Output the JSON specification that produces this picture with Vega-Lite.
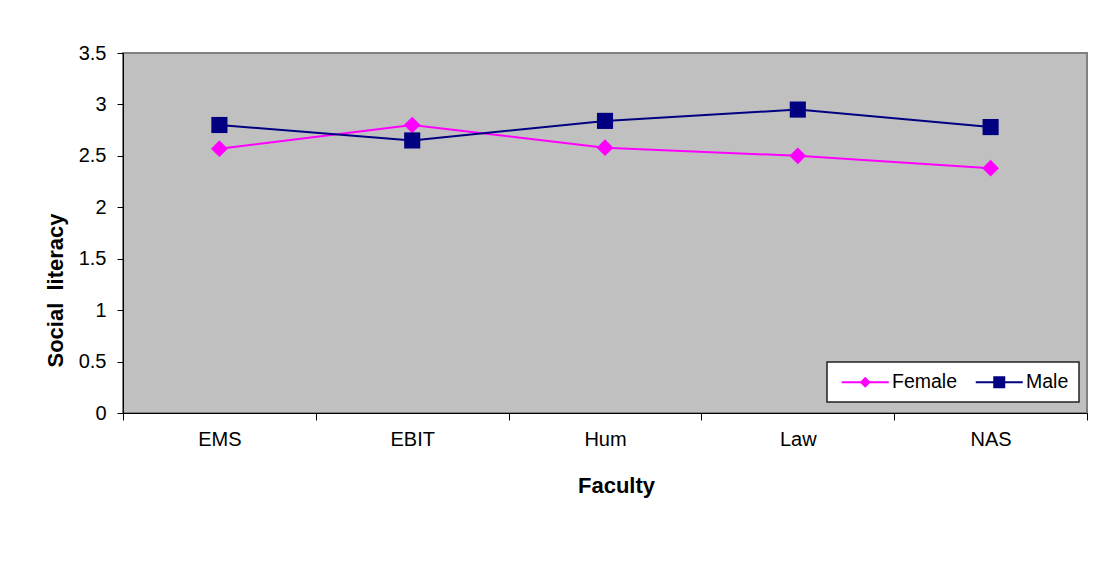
{
  "$schema": "https://vega.github.io/schema/vega-lite/v6.json",
  "width": 964,
  "height": 360,
  "autosize": "none",
  "padding": {"left": 123, "top": 53, "right": 17, "bottom": 162},
  "background": "#ffffff",
  "config": {
    "font": "Liberation Sans",
    "view": {"fill": "#C0C0C0", "stroke": "#808080", "strokeWidth": 2},
    "axis": {
      "labelFont": "Liberation Sans",
      "labelColor": "#000000",
      "labelFontSize": 20,
      "titleFont": "Liberation Sans",
      "titleColor": "#000000",
      "titleFontWeight": "bold",
      "domainColor": "#000000",
      "domainWidth": 1,
      "tickColor": "#000000",
      "tickWidth": 1,
      "grid": false
    },
    "legend": {"strokeWidth": 1.5}
  },
  "data": {
    "values": [
      {"faculty": "EMS", "gender": "Female", "score": 2.57},
      {"faculty": "EBIT", "gender": "Female", "score": 2.8},
      {"faculty": "Hum", "gender": "Female", "score": 2.58},
      {"faculty": "Law", "gender": "Female", "score": 2.5},
      {"faculty": "NAS", "gender": "Female", "score": 2.38},
      {"faculty": "EMS", "gender": "Male", "score": 2.8},
      {"faculty": "EBIT", "gender": "Male", "score": 2.65},
      {"faculty": "Hum", "gender": "Male", "score": 2.84},
      {"faculty": "Law", "gender": "Male", "score": 2.95},
      {"faculty": "NAS", "gender": "Male", "score": 2.78}
    ]
  },
  "encoding": {
    "x": {
      "field": "faculty",
      "type": "nominal",
      "sort": ["EMS", "EBIT", "Hum", "Law", "NAS"],
      "bandPosition": 0.5,
      "scale": {"type": "band", "paddingInner": 0, "paddingOuter": 0},
      "axis": {
        "title": "Faculty",
        "titleFontSize": 22,
        "titleX": 493,
        "titleY": 79,
        "titleBaseline": "alphabetic",
        "titleAlign": "center",
        "labelAngle": 0,
        "labelPadding": 9,
        "tickSize": 7,
        "tickBand": "extent"
      }
    },
    "y": {
      "field": "score",
      "type": "quantitative",
      "scale": {"domain": [0, 3.5], "nice": false},
      "axis": {
        "title": "Social\u00a0 literacy",
        "titleFontSize": 22,
        "titleX": -68,
        "titleY": 237,
        "titleAngle": -90,
        "titleBaseline": "middle",
        "titleAlign": "center",
        "values": [0, 0.5, 1, 1.5, 2, 2.5, 3, 3.5],
        "format": "~g",
        "labelPadding": 11,
        "tickSize": 6
      }
    },
    "color": {
      "field": "gender",
      "type": "nominal",
      "scale": {"domain": ["Female", "Male"], "range": ["#FF00FF", "#000080"]},
      "legend": {
        "title": null,
        "orient": "none",
        "legendX": 704,
        "legendY": 309,
        "direction": "horizontal",
        "padding": 10,
        "fillColor": "#ffffff",
        "strokeColor": "#222222",
        "symbolSize": 100,
        "symbolOffset": 18.5,
        "labelOffset": 17,
        "columnPadding": 13,
        "labelFontSize": 19.5,
        "labelFont": "Liberation Sans",
        "labelColor": "#000000",
        "encode": {
          "symbols": {
            "update": {
              "shape": {"signal": "datum.value === 'Female' ? 'M-4.7,-0.2H4.7V0.2H-4.7Z M0,-1.1L1.1,0L0,1.1L-1.1,0Z' : 'M-4.7,-0.2H4.7V0.2H-4.7Z M-1.2,-1.2H1.2V1.2H-1.2Z'"},
              "fill": {"signal": "datum.value === 'Female' ? '#FF00FF' : '#000080'"},
              "strokeWidth": {"value": 0},
              "opacity": {"value": 1},
              "fillOpacity": {"value": 1}
            }
          }
        }
      }
    }
  },
  "layer": [
    {"mark": {"type": "line", "strokeWidth": 2}},
    {
      "transform": [{"filter": "datum.gender === 'Female'"}],
      "mark": {"type": "point", "shape": "diamond", "filled": true, "opacity": 1, "size": 280}
    },
    {
      "transform": [{"filter": "datum.gender === 'Male'"}],
      "mark": {"type": "point", "shape": "square", "filled": true, "opacity": 1, "size": 260}
    }
  ]
}
